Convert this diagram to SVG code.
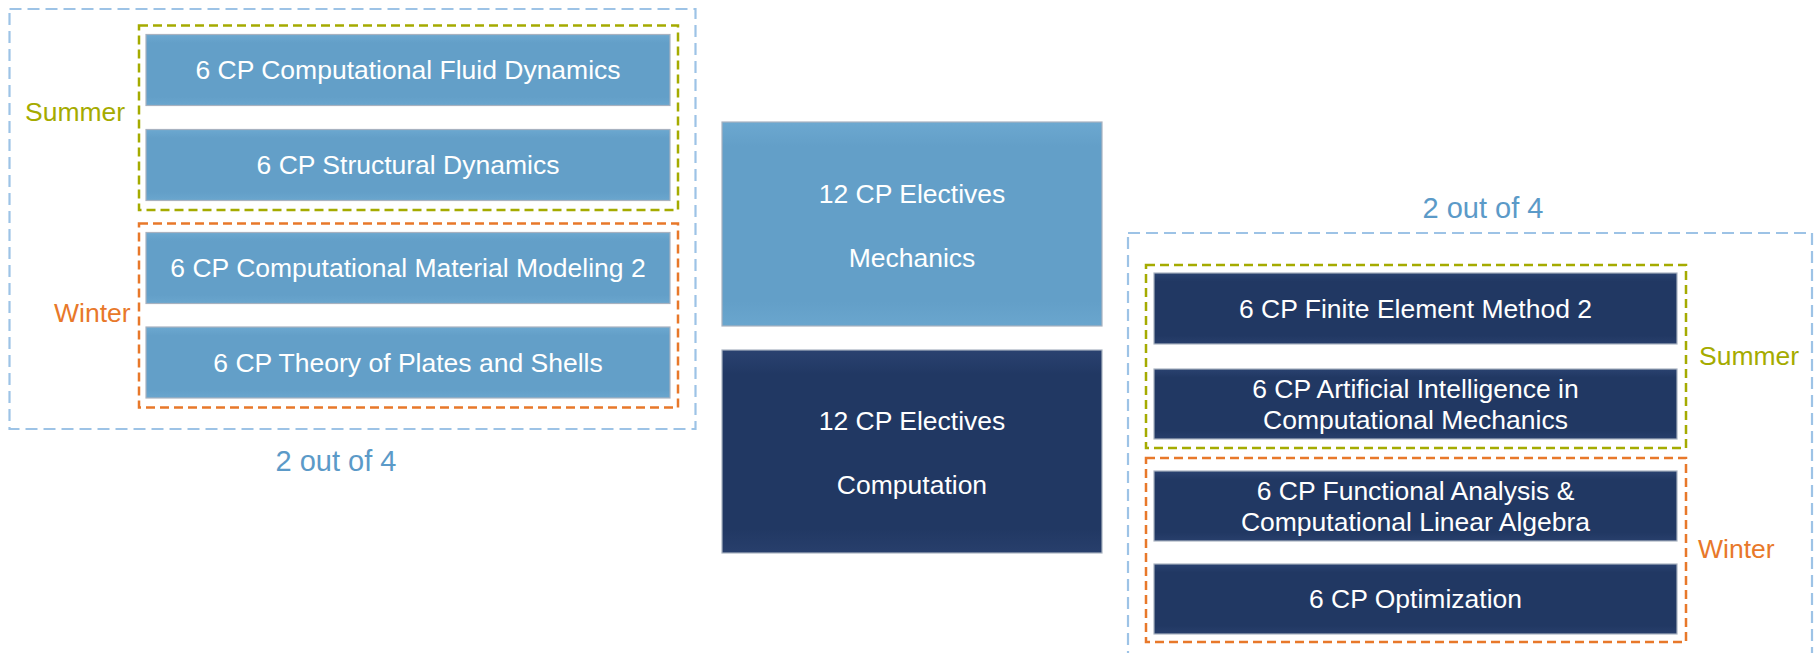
<svg xmlns="http://www.w3.org/2000/svg" width="1817" height="653" viewBox="0 0 1817 653">
<style>
.bl{fill:url(#gl);stroke:#A8B2C0;stroke-width:1.2}
.bd{fill:url(#gd);stroke:#A8B2C0;stroke-width:1.2}
.t{font-family:"Liberation Sans",Arial,sans-serif;font-size:26.5px;fill:#FFFFFF;text-anchor:middle}
.sum{font-family:"Liberation Sans",Arial,sans-serif;font-size:26.5px;fill:#A5AB00}
.win{font-family:"Liberation Sans",Arial,sans-serif;font-size:26.5px;fill:#E8782A}
.of{font-family:"Liberation Sans",Arial,sans-serif;font-size:29px;fill:#5B9AC8;text-anchor:middle}
.cb{fill:none;stroke:#9DC3E6;stroke-width:2.2;stroke-dasharray:12 6}
.cg{fill:none;stroke:#A5AB00;stroke-width:2.5;stroke-dasharray:9 5}
.co{fill:none;stroke:#E8782A;stroke-width:2.5;stroke-dasharray:9 5}
</style>
<defs>
<linearGradient id="gl" x1="0" y1="0" x2="0" y2="1">
<stop offset="0" stop-color="#6CA8D0"/>
<stop offset="0.12" stop-color="#639FC8"/>
<stop offset="0.88" stop-color="#639FC8"/>
<stop offset="1" stop-color="#6AA6CE"/>
</linearGradient>
<linearGradient id="gd" x1="0" y1="0" x2="0" y2="1">
<stop offset="0" stop-color="#2A4270"/>
<stop offset="0.12" stop-color="#213863"/>
<stop offset="0.88" stop-color="#213863"/>
<stop offset="1" stop-color="#283F6C"/>
</linearGradient>
</defs>

<g id="left-group">
<rect class="cb" x="9.5" y="9" width="686" height="420"/>
<rect class="cg" x="139" y="25.5" width="539" height="184.5"/>
<rect class="co" x="139" y="223.5" width="539" height="184"/>
<text class="sum" x="25" y="121">Summer</text>
<text class="win" x="54" y="322">Winter</text>
<text class="of" x="336" y="471">2 out of 4</text>
</g>

<g id="node-cfd">
<rect class="bl" x="146" y="34.5" width="524" height="71"/>
<text class="t" x="408" y="79">6 CP Computational Fluid Dynamics</text>
</g>
<g id="node-sd">
<rect class="bl" x="146" y="129.5" width="524" height="71"/>
<text class="t" x="408" y="174">6 CP Structural Dynamics</text>
</g>
<g id="node-cmm2">
<rect class="bl" x="146" y="232.5" width="524" height="71"/>
<text class="t" x="408" y="277">6 CP Computational Material Modeling 2</text>
</g>
<g id="node-tps">
<rect class="bl" x="146" y="327" width="524" height="71"/>
<text class="t" x="408" y="372">6 CP Theory of Plates and Shells</text>
</g>

<g id="node-mechanics">
<rect class="bl" x="722" y="122" width="380" height="204"/>
<text class="t" x="912" y="203">12 CP Electives</text>
<text class="t" x="912" y="267">Mechanics</text>
</g>
<g id="node-computation">
<rect class="bd" x="722" y="350" width="380" height="203"/>
<text class="t" x="912" y="430">12 CP Electives</text>
<text class="t" x="912" y="494">Computation</text>
</g>

<g id="right-group">
<rect class="cb" x="1128" y="233" width="684" height="440"/>
<rect class="cg" x="1146" y="265" width="540" height="183"/>
<rect class="co" x="1146" y="458" width="540" height="184"/>
<text class="sum" x="1699" y="365">Summer</text>
<text class="win" x="1698" y="558">Winter</text>
<text class="of" x="1483" y="218">2 out of 4</text>
</g>

<g id="node-fem2">
<rect class="bd" x="1154" y="273" width="523" height="71"/>
<text class="t" x="1415.5" y="318">6 CP Finite Element Method 2</text>
</g>
<g id="node-ai">
<rect class="bd" x="1154" y="369" width="523" height="70"/>
<text class="t" x="1415.5" y="398">6 CP Artificial Intelligence in</text>
<text class="t" x="1415.5" y="429">Computational Mechanics</text>
</g>
<g id="node-fa">
<rect class="bd" x="1154" y="471" width="523" height="70"/>
<text class="t" x="1415.5" y="500">6 CP Functional Analysis &amp;</text>
<text class="t" x="1415.5" y="531">Computational Linear Algebra</text>
</g>
<g id="node-opt">
<rect class="bd" x="1154" y="564" width="523" height="70"/>
<text class="t" x="1415.5" y="608">6 CP Optimization</text>
</g>

<g id="connectors"></g>
</svg>
